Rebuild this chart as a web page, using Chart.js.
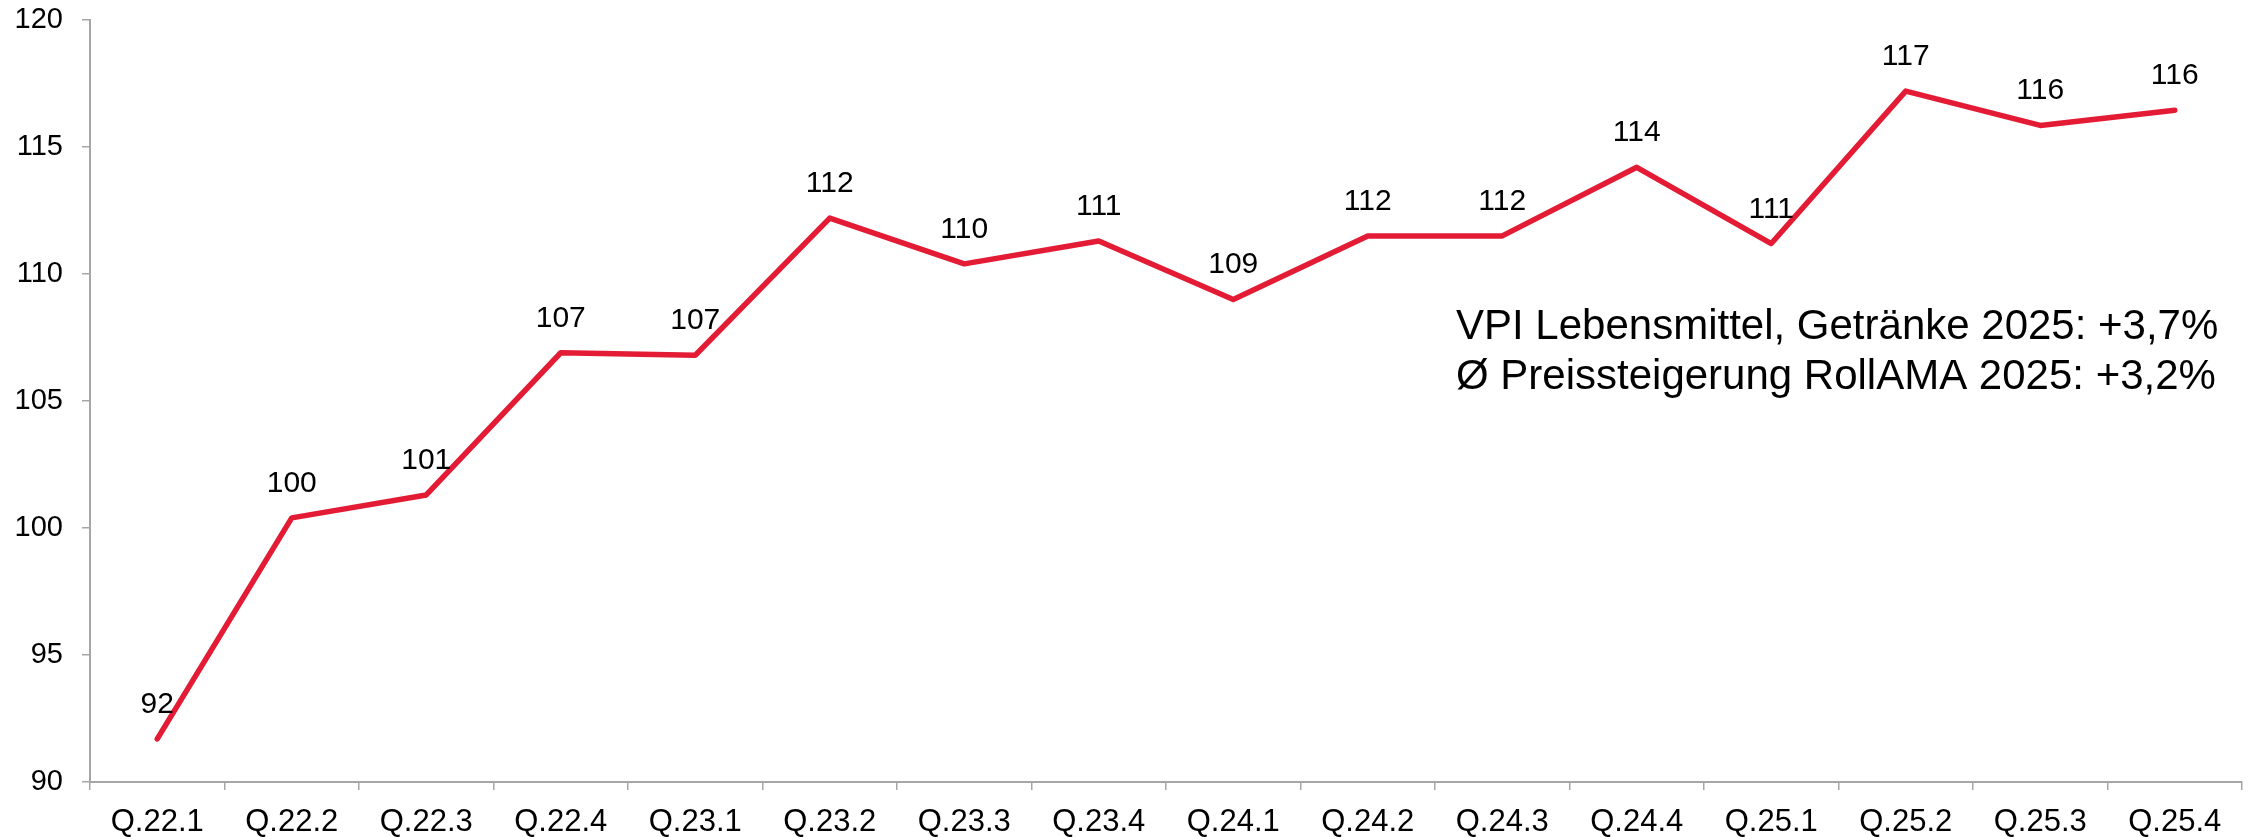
<!DOCTYPE html>
<html>
<head>
<meta charset="utf-8">
<script src="https://cdn.jsdelivr.net/npm/chart.js@4"></script>
<style>
  html, body { margin: 0; padding: 0; background: #ffffff; }
  #wrap { width: 2249px; height: 837px; }
</style>
</head>
<body>
<div id="wrap"><canvas id="c" width="2249" height="837"></canvas></div>
<script>
const categories = ['Q.22.1','Q.22.2','Q.22.3','Q.22.4','Q.23.1','Q.23.2','Q.23.3','Q.23.4','Q.24.1','Q.24.2','Q.24.3','Q.24.4','Q.25.1','Q.25.2','Q.25.3','Q.25.4'];
const indexValues = [91.7, 100.4, 101.3, 106.9, 106.8, 112.2, 110.4, 111.3, 109.0, 111.5, 111.5, 114.2, 111.2, 117.2, 115.85, 116.45];
const annotationLines = ['VPI Lebensmittel, Getränke 2025: +3,7%', 'Ø Preissteigerung RollAMA 2025: +3,2%'];
const yMin = 90, yMax = 120, yStep = 5;

const FONT = "'Liberation Sans', Arial, Helvetica, sans-serif";
const AXIS_COLOR = '#a6a6a6';
const LINE_COLOR = '#e31b34';

const valueLabelPlugin = {
  id: 'valueLabels',
  afterDatasetsDraw(chart) {
    const ctx = chart.ctx;
    const meta = chart.getDatasetMeta(0);
    ctx.save();
    ctx.font = '30px ' + FONT;
    ctx.fillStyle = '#000000';
    ctx.textAlign = 'center';
    ctx.textBaseline = 'alphabetic';
    meta.data.forEach((pt, i) => {
      ctx.fillText(String(Math.round(indexValues[i])), pt.x, pt.y - 26);
    });
    ctx.restore();
  }
};

const annotationPlugin = {
  id: 'annotationText',
  afterDraw(chart) {
    const ctx = chart.ctx;
    ctx.save();
    ctx.font = '42px ' + FONT;
    ctx.fillStyle = '#000000';
    ctx.textAlign = 'left';
    ctx.textBaseline = 'alphabetic';
    annotationLines.forEach((t, i) => {
      ctx.fillText(t, 1456, 339 + i * 50);
    });
    ctx.restore();
  }
};

new Chart(document.getElementById('c'), {
  type: 'line',
  data: {
    labels: categories,
    datasets: [{
      data: indexValues,
      borderColor: LINE_COLOR,
      backgroundColor: LINE_COLOR,
      borderWidth: 5.5,
      pointRadius: 0,
      pointHoverRadius: 0,
      tension: 0,
      fill: false,
      borderCapStyle: 'round',
      borderJoinStyle: 'round'
    }]
  },
  options: {
    responsive: false,
    animation: false,
    devicePixelRatio: 1,
    layout: { padding: { top: 20, right: 7, left: 0, bottom: 0 } },
    plugins: { legend: { display: false }, tooltip: { enabled: false } },
    scales: {
      x: {
        type: 'category',
        offset: true,
        grid: { offset: true, drawOnChartArea: false, drawTicks: true, tickLength: 8, color: AXIS_COLOR, lineWidth: 1.5 },
        border: { display: true, color: AXIS_COLOR, width: 2 },
        ticks: { color: '#000000', font: { family: FONT, size: 31 }, padding: 14, maxRotation: 0, autoSkip: false },
        afterFit(scale) { scale.height = 55; scale.paddingLeft = 0; scale.paddingRight = 0; }
      },
      y: {
        min: yMin,
        max: yMax,
        grid: { drawOnChartArea: false, drawTicks: true, tickLength: 8, color: AXIS_COLOR, lineWidth: 1.5 },
        border: { display: true, color: AXIS_COLOR, width: 2 },
        ticks: { stepSize: yStep, color: '#000000', font: { family: FONT, size: 29 }, padding: 19 },
        afterFit(scale) { scale.width = 90; scale.paddingTop = 0; scale.paddingBottom = 0; }
      }
    }
  },
  plugins: [valueLabelPlugin, annotationPlugin]
});
</script>
</body>
</html>
